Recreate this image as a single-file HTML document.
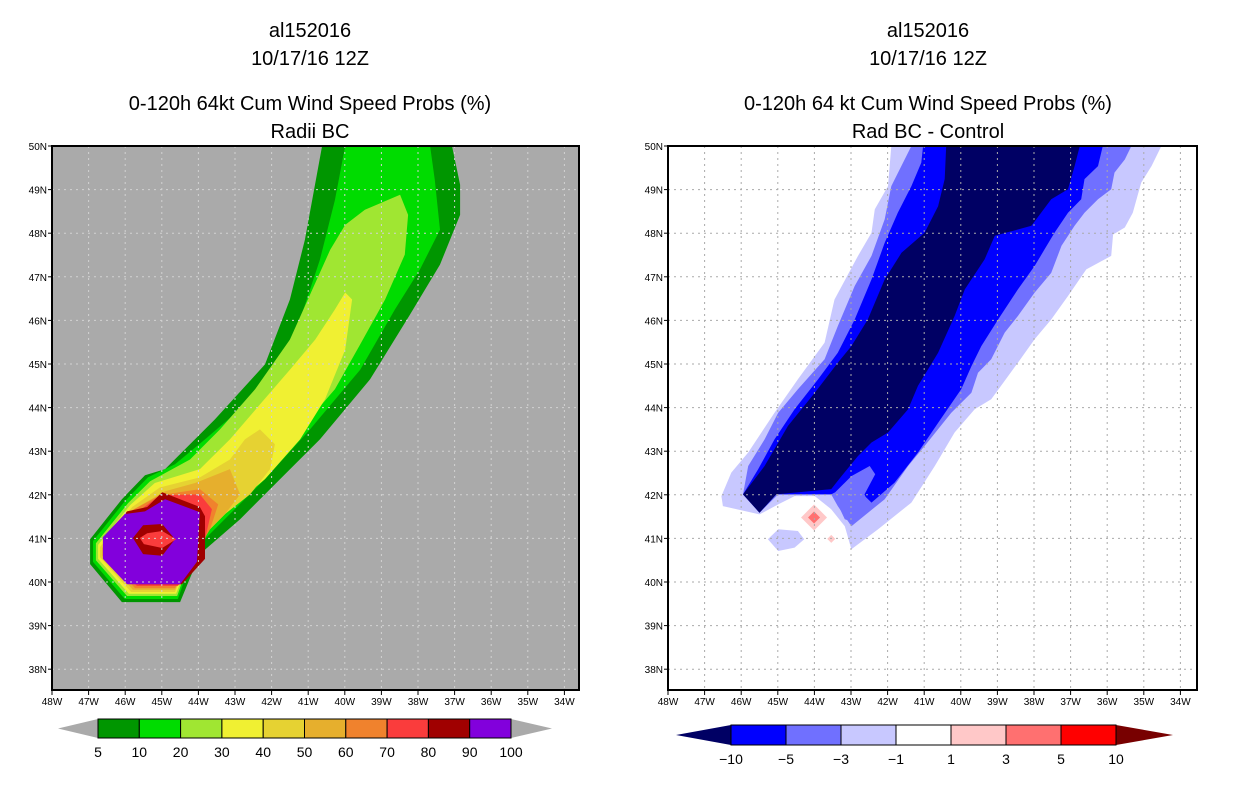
<!DOCTYPE html>
<html><head><meta charset="utf-8"><style>
body{margin:0;background:#fff;}
svg{display:block;font-family:"Liberation Sans",sans-serif;}
.t{font-size:20px;text-anchor:middle;fill:#000;}
.tk{font-size:10px;fill:#000;}
.cb{font-size:14px;text-anchor:middle;fill:#000;}
</style></head><body>
<svg id="s" width="1236" height="800" viewBox="0 0 1236 800">
<text class="t" x="310" y="37">al152016</text>
<text class="t" x="310" y="65">10/17/16 12Z</text>
<text class="t" x="310" y="110">0-120h 64kt Cum Wind Speed Probs (%)</text>
<text class="t" x="310" y="138">Radii BC</text>
<text class="t" x="928" y="37">al152016</text>
<text class="t" x="928" y="65">10/17/16 12Z</text>
<text class="t" x="928" y="110">0-120h 64 kt Cum Wind Speed Probs (%)</text>
<text class="t" x="928" y="138">Rad BC - Control</text>
</svg>
<script>
// ---- data ----
const lonTicks=[-48,-47,-46,-45,-44,-43,-42,-41,-40,-39,-38,-37,-36,-35,-34];
const latTicks=[38,39,40,41,42,43,44,45,46,47,48,49,50];
const leftLevels=[5,10,20,30,40,50,60,70,80,90,100];
const leftColors=["#009600","#00dc00","#a0e632","#f0f032","#e6d232","#e6af2d","#f0822d","#fa3c3c","#a00000","#8200dc"];
const rightLevels=[-10,-5,-3,-1,1,3,5,10];
const rightColors=["#000064","#0000ff","#7070ff","#c8c8ff","#ffffff","#ffc8c8","#ff7070","#ff0000","#780000"];
// left contours: [colorIndex, polygon lon/lat]
const L5=[[-40.62,50],[-37.07,50],[-36.85,49.11],[-36.85,48.42],[-37.40,47.28],[-38.22,46.13],[-39.31,44.65],[-40.68,43.27],[-42.04,42.13],[-42.86,41.44],[-43.96,40.64],[-44.50,39.54],[-46.09,39.54],[-46.96,40.41],[-46.96,40.98],[-46.09,41.90],[-45.46,42.45],[-44.91,42.59],[-43.55,43.73],[-42.18,44.99],[-41.50,46.48],[-41.09,47.85]];
const L10=[[-39.99,50],[-37.67,50],[-37.54,49.22],[-37.40,48.08],[-37.95,47.16],[-38.63,46.25],[-39.58,44.87],[-40.95,43.50],[-42.18,42.36],[-43.14,41.56],[-44.09,40.76],[-44.56,39.61],[-46.01,39.61],[-46.88,40.46],[-46.88,40.94],[-46.01,41.85],[-45.38,42.40],[-44.64,42.70],[-43.82,43.27],[-42.86,43.96],[-41.91,44.87],[-41.22,46.02],[-40.68,47.39],[-40.27,48.76]];
const L20=[[-39.45,48.54],[-38.49,48.88],[-38.27,48.42],[-38.36,47.51],[-38.90,46.48],[-39.58,45.45],[-40.27,44.42],[-41.22,43.50],[-42.32,42.47],[-43.27,41.67],[-44.09,40.87],[-44.58,39.68],[-45.95,39.68],[-46.80,40.50],[-46.80,40.89],[-45.92,41.81],[-45.32,42.31],[-44.23,42.81],[-43.41,43.50],[-42.45,44.42],[-41.50,45.56],[-40.95,46.59],[-40.40,47.62],[-39.99,48.19]];
const L30=[[-39.99,46.64],[-39.80,46.48],[-39.99,45.33],[-40.54,44.19],[-41.22,43.27],[-42.18,42.36],[-43.14,41.67],[-44.09,40.87],[-44.61,39.73],[-45.90,39.73],[-46.74,40.53],[-46.74,40.85],[-45.87,41.76],[-45.19,42.27],[-43.96,42.59],[-43.14,43.27],[-42.32,44.07],[-41.50,44.87],[-40.81,45.56],[-40.27,46.25]];
const L40=[[-42.32,43.50],[-41.91,43.16],[-42.04,42.59],[-42.59,42.01],[-43.27,41.56],[-44.09,40.87],[-44.64,39.77],[-45.84,39.77],[-46.69,40.57],[-46.69,40.80],[-45.81,41.72],[-45.05,42.17],[-43.96,42.40],[-43.14,42.81],[-42.73,43.27]];
const L50=[[-43.82,42.36],[-43.14,42.59],[-42.86,42.01],[-43.27,41.56],[-43.96,40.98],[-44.64,39.82],[-45.79,39.82],[-46.63,40.60],[-46.63,40.78],[-45.76,41.67],[-44.91,42.08],[-44.09,42.27]];
const L60=[[-45.87,41.62],[-45.05,41.99],[-43.96,42.13],[-43.46,41.78],[-43.68,41.21],[-44.09,40.64],[-44.64,39.86],[-45.73,39.86],[-46.58,40.62],[-46.58,40.76]];
const L70=[[-45.73,41.56],[-45.05,41.99],[-43.96,42.01],[-43.63,41.67],[-43.82,40.98],[-43.96,40.53],[-44.56,39.91],[-45.68,39.91],[-46.52,40.64],[-46.52,40.73]];
const L80=[[-45.95,41.62],[-45.40,41.72],[-44.99,42.06],[-43.96,41.72],[-43.82,41.51],[-43.82,40.53],[-44.45,39.95],[-45.62,39.95],[-46.55,40.62],[-46.55,40.98]];
const L90=[[-46.61,41.03],[-46.61,40.53],[-45.95,39.95],[-44.50,39.95],[-44.04,40.46],[-43.96,41.60],[-44.91,41.90],[-45.46,41.62],[-46.01,41.56]];
const L80c=[[-45.79,41.01],[-45.51,41.30],[-44.99,41.33],[-44.64,40.98],[-44.99,40.60],[-45.51,40.64]];
const L70c=[[-45.60,41.01],[-45.40,41.12],[-44.99,41.17],[-44.61,40.98],[-44.99,40.78],[-45.49,40.87]];
const leftContours=[[0,L5],[1,L10],[2,L20],[3,L30],[4,L40],[5,L50],[6,L60],[7,L70],[8,L80],[9,L90],[8,L80c],[7,L70c]];
// right contours (difference)
const Rm1=[[-41.90,50],[-34.52,50],[-34.79,49.54],[-35.07,49.16],[-35.30,48.47],[-35.52,48.13],[-35.84,47.97],[-35.89,47.48],[-36.57,47.17],[-37.07,46.56],[-37.53,46.02],[-37.98,45.57],[-38.44,45.03],[-39.17,44.19],[-39.62,43.96],[-40.17,43.43],[-40.71,42.66],[-41.35,41.82],[-42.26,41.21],[-42.99,40.75],[-43.17,41.28],[-43.54,41.67],[-43.99,41.97],[-44.54,41.97],[-44.99,41.78],[-45.50,41.55],[-46.50,41.74],[-46.54,41.97],[-46.27,42.51],[-45.81,42.97],[-45.09,43.88],[-44.45,44.65],[-43.72,45.49],[-43.45,46.48],[-42.81,47.48],[-42.44,48.01],[-42.35,48.55],[-41.99,49.08]];
const Rm1b=[[-45.27,40.98],[-44.99,41.21],[-44.45,41.17],[-44.28,40.98],[-44.54,40.79],[-44.99,40.71]];
const Rm3=[[-41.35,50],[-35.34,50],[-35.52,49.69],[-35.80,49.39],[-35.89,49.01],[-36.25,48.78],[-36.62,48.47],[-36.89,48.17],[-37.25,47.71],[-37.53,47.09],[-37.98,46.64],[-38.44,46.10],[-38.80,45.72],[-39.17,45.11],[-39.53,44.80],[-39.71,44.34],[-40.26,43.88],[-40.99,43.12],[-41.44,42.66],[-42.08,41.90],[-42.99,41.28],[-43.36,41.74],[-43.54,42.01],[-44.99,42.01],[-45.50,41.59],[-45.95,42.01],[-45.81,42.66],[-45.36,43.27],[-44.99,43.88],[-44.45,44.42],[-43.72,45.11],[-43.36,45.87],[-42.90,46.79],[-42.44,47.48],[-42.08,48.32],[-41.90,49.08]];
const Rm5=[[-41.03,50],[-36.12,50],[-36.25,49.54],[-36.62,49.24],[-36.71,48.78],[-37.07,48.47],[-37.44,48.01],[-37.71,47.63],[-37.98,47.25],[-38.44,46.71],[-38.98,46.02],[-39.44,45.41],[-39.71,44.95],[-39.99,44.42],[-40.62,43.65],[-41.17,42.97],[-41.81,42.28],[-42.44,41.82],[-42.67,42.01],[-43.45,42.05],[-43.54,42.01],[-45.04,42.01],[-45.50,41.59],[-45.95,42.01],[-45.54,42.58],[-45.09,43.27],[-44.54,43.96],[-43.90,44.65],[-43.36,45.26],[-42.90,46.02],[-42.44,46.94],[-42.08,47.78],[-41.72,48.47],[-41.35,49.08],[-41.08,49.62]];
const Rm3i=[[-43.49,42.01],[-42.99,42.43],[-42.49,42.66],[-42.34,42.47],[-42.63,42.01],[-42.52,41.80],[-42.90,41.36],[-43.17,41.44]];
const Rm10=[[-40.40,50],[-36.75,50],[-36.89,49.54],[-37.07,49.01],[-37.53,48.78],[-38.07,48.17],[-39.07,47.94],[-39.35,47.40],[-39.89,46.71],[-40.17,46.10],[-40.62,45.26],[-41.17,44.50],[-41.44,43.96],[-41.99,43.43],[-42.44,43.20],[-42.81,42.89],[-43.26,42.43],[-43.54,42.13],[-45.04,42.01],[-45.50,41.59],[-45.95,42.01],[-45.36,42.66],[-44.72,43.58],[-43.99,44.34],[-43.36,45.03],[-42.99,45.41],[-42.54,46.02],[-42.08,46.94],[-41.62,47.55],[-40.99,48.01],[-40.62,48.62],[-40.44,49.24]];
const rightContours=[[3,Rm1],[3,Rm1b],[2,Rm3],[1,Rm5],[2,Rm3i],[0,Rm10]];
// positive anomaly cells: lon, lat, value
const posLon=[-44.01,-43.54];
const posLat=[41.48,40.99];
const posVal=[4,1.5];

// ---- drawing ----
const NS='http://www.w3.org/2000/svg';
const svg=document.getElementById('s');
function el(t,a,p){const e=document.createElementNS(NS,t);for(const k in a)e.setAttribute(k,a[k]);(p||svg).appendChild(e);return e;}
const yScale=lat=>146+(50-lat)*43.6;
function panel(x0,x1,bg,contours,colors,gridCol,name){
  const xs=lon=>x0+(lon+48)*36.6;
  const g=el('g',{});
  
  
  const cp='clip'+name;
  const c=el('clipPath',{id:cp},g);el('rect',{x:x0,y:146,width:x1-x0,height:544},c);
  el('rect',{x:x0,y:146,width:x1-x0,height:544,fill:bg},g);
  const cg=el('g',{'clip-path':'url(#'+cp+')'},g);
  contours.forEach(([ci,poly])=>{
    const p=el('polygon',{points:poly.map(([lo,la])=>xs(lo).toFixed(1)+','+yScale(la).toFixed(1)).join(' '),fill:colors[ci]},cg);
    
    
  });
  return {g,cg,xs};
}
function grid(P,x0,x1,col,name){
  lonTicks.forEach(lo=>{const x=P.xs(lo);if(x>x0+2&&x<x1-2)el('line',{x1:x,y1:146,x2:x,y2:690,stroke:col,'stroke-width':1,'stroke-dasharray':'2,4'},P.cg);});
  latTicks.forEach(la=>{const y=yScale(la);if(y>148&&y<688)el('line',{x1:x0,y1:y,x2:x1,y2:y,stroke:col,'stroke-width':1,'stroke-dasharray':'2,4'},P.cg);});
  const f=el('rect',{x:x0,y:146,width:x1-x0,height:544,fill:'none',stroke:'#000','stroke-width':2},P.g);
  
  
  lonTicks.forEach(lo=>{const x=P.xs(lo);
    el('line',{x1:x,y1:690,x2:x,y2:695,stroke:'#000'},P.g);
    const t=el('text',{x:x,y:705,class:'tk','text-anchor':'middle'},P.g);t.textContent=(-lo)+'W';
    
    });
  latTicks.forEach(la=>{const y=yScale(la);
    el('line',{x1:x0-4,y1:y,x2:x0,y2:y,stroke:'#000'},P.g);
    const t=el('text',{x:x0-5,y:y+4,class:'tk','text-anchor':'end'},P.g);t.textContent=la+'N';
    
    });
}
const PL=panel(52,579,'#aaaaaa',leftContours,leftColors,'#d2d2d2','left');
grid(PL,52,579,'#d2d2d2','left');
const PR=panel(668,1197,'#ffffff',rightContours,rightColors,'#aaaaaa','right');
posVal.forEach((v,i)=>{
  const cx=PR.xs(posLon[i]),cy=yScale(posLat[i]);
  const r=v>3?13:4;
  const d=el('polygon',{points:`${cx},${cy-r} ${cx+r},${cy} ${cx},${cy+r} ${cx-r},${cy}`,fill:rightColors[5]},PR.cg);
  
  
  if(v>3){const r2=6;const d2=el('polygon',{points:`${cx},${cy-r2} ${cx+r2},${cy} ${cx},${cy+r2} ${cx-r2},${cy}`,fill:rightColors[6]},PR.cg);
    
    }
});
grid(PR,668,1197,'#aaaaaa','right');

function colorbar(tipL,bx0,bx1,tipR,y0,y1,levels,colors,lowCol,highCol,name){
  const g=el('g',{});
  
  
  const n=levels.length-1,w=(bx1-bx0)/n,ym=(y0+y1)/2;
  el('polygon',{points:`${tipL},${ym} ${bx0},${y0} ${bx0},${y1}`,fill:lowCol},g);
  el('polygon',{points:`${tipR},${ym} ${bx1},${y0} ${bx1},${y1}`,fill:highCol},g);
  for(let i=0;i<n;i++){
    const r=el('rect',{x:bx0+i*w,y:y0,width:w,height:y1-y0,fill:colors[i],stroke:'#000','stroke-width':1},g);
    
    
  }
  levels.forEach((lv,i)=>{const t=el('text',{x:bx0+i*w,y:y1+19,class:'cb'},g);t.textContent=String(lv).replace('-','\u2212');
    
    });
}
colorbar(58,98,511,552,719,738,leftLevels,leftColors,'#aaaaaa','#aaaaaa','left');
colorbar(676,731,1116,1173,725,745,rightLevels,rightColors.slice(1,8),rightColors[0],rightColors[8],'right');
</script>
</body></html>
